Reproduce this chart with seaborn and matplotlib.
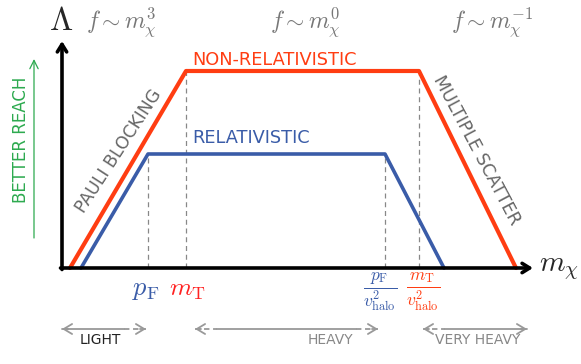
import matplotlib
matplotlib.use("Agg")
import matplotlib.pyplot as plt
import seaborn as sns
import pandas as pd

# data: schematic curves (x = log mass units, y = reach)
red_x = [8, 124, 357, 454]
red_y = [0, 197, 197, 0]
blue_x = [19, 86, 323, 382]
blue_y = [0, 114, 114, 0]

# threshold markers
pF_x, mT_x = 86, 124
pF_halo_x, mT_halo_x = 323, 357

# mass regimes
range_labels = ["LIGHT", "HEAVY", "VERY HEAVY"]
range_start = [0, 133, 361]
range_end = [84, 316, 465]
range_label_x = [38, 268, 416]
range_label_col = ["#222222", "#888888", "#888888"]

scaling_labels = [r"$f \sim m_\chi^3$", r"$f \sim m_\chi^0$", r"$f \sim m_\chi^{-1}$"]
scaling_x = [59, 243, 430]

RED = "#FF3D12"
BLUE = "#3A5CA8"
GRAY = "#999999"

sns.set_theme(style="white")
plt.rcParams["font.family"] = ["DejaVu Sans"]
plt.rcParams["mathtext.fontset"] = "cm"

fig = plt.figure(figsize=(5.81, 3.64), dpi=100)
ax = fig.add_axes([0, 0, 1, 1])
ax.set_xlim(-62, 519)
ax.set_ylim(-96, 268)
ax.axis("off")

# dashed guide lines
for xv, top in [(pF_x, blue_y[1]), (mT_x, red_y[1]), (pF_halo_x, blue_y[2]), (mT_halo_x, red_y[2])]:
    ax.plot([xv, xv], [0, top], color="#888888", lw=0.9, ls=(0, (4, 3)), zorder=1)

df_red = pd.DataFrame({"x": red_x, "y": red_y})
df_blue = pd.DataFrame({"x": blue_x, "y": blue_y})
sns.lineplot(data=df_red, x="x", y="y", sort=False, estimator=None, color=RED, lw=3.0, ax=ax, zorder=3)
sns.lineplot(data=df_blue, x="x", y="y", sort=False, estimator=None, color=BLUE, lw=2.6, ax=ax, zorder=3)
ax.axis("off")

# axes with arrows
ax.annotate("", xy=(0, 227), xytext=(0, -1.5),
            arrowprops=dict(arrowstyle="->,head_length=0.45,head_width=0.28", color="black", lw=2.6,
                            shrinkA=0, shrinkB=0))
ax.annotate("", xy=(471, 0), xytext=(-1.5, 0),
            arrowprops=dict(arrowstyle="->,head_length=0.45,head_width=0.28", color="black", lw=2.6,
                            shrinkA=0, shrinkB=0))
ax.text(-1, 248, r"$\Lambda$", fontsize=24, ha="center", va="center")
ax.text(477, 0, r"$m_\chi$", fontsize=21, ha="left", va="center")

# better reach arrow
ax.annotate("", xy=(-28, 209), xytext=(-28, 30),
            arrowprops=dict(arrowstyle="->,head_length=0.5,head_width=0.25", color="#2DAA4F", lw=0.9,
                            shrinkA=0, shrinkB=0))
ax.text(-41, 128, "BETTER REACH", color="#2DAA4F", fontsize=12, rotation=90,
        ha="center", va="center")

# curve labels
ax.text(130, 208, "NON-RELATIVISTIC", color=RED, fontsize=12.8, ha="left", va="center")
ax.text(130, 130, "RELATIVISTIC", color=BLUE, fontsize=12.8, ha="left", va="center")
ax.text(57, 117, "PAULI BLOCKING", color="#666666", fontsize=12.4, rotation=57,
        ha="center", va="center", rotation_mode="anchor")
ax.text(415, 118, "MULTIPLE SCATTER", color="#666666", fontsize=12.6, rotation=-62,
        ha="center", va="center", rotation_mode="anchor")

# scaling labels
for lab, xv in zip(scaling_labels, scaling_x):
    ax.text(xv, 246, lab, color="#777777", fontsize=17, ha="center", va="center")

# threshold labels
ax.text(pF_x - 2, -21, r"$p_{\rm F}$", color=BLUE, fontsize=19, ha="center", va="center")
ax.text(mT_x + 1, -21, r"$m_{\rm T}$", color="#FF2222", fontsize=18.5, ha="center", va="center")
ax.text(pF_halo_x - 5, -24, r"$\frac{p_{\rm F}}{v^2_{\rm halo}}$", color=BLUE, fontsize=18,
        ha="center", va="center")
ax.text(mT_halo_x + 4, -24, r"$\frac{m_{\rm T}}{v^2_{\rm halo}}$", color=RED, fontsize=18,
        ha="center", va="center")

# mass regime arrows
y_r = -61
dash_len = 22
for i, lab in enumerate(range_labels):
    s, e = range_start[i], range_end[i]
    if i == 0:
        segs = [(s, e - dash_len, "-"), (e - dash_len, e, "--")]
    elif i == 1:
        segs = [(s, s + dash_len, "--"), (s + dash_len, e - dash_len, "-"), (e - dash_len, e, "--")]
    else:
        segs = [(s, s + dash_len, "--"), (s + dash_len, e, "-")]
    for a, b, st in segs:
        ax.plot([a, b], [y_r, y_r], color=GRAY, lw=1.3, ls="-" if st == "-" else (0, (3, 2)))
    for tip, back in [(s, s + 6), (e, e - 6)]:
        ax.annotate("", xy=(tip, y_r), xytext=(back, y_r),
                    arrowprops=dict(arrowstyle="->,head_length=0.5,head_width=0.3", color=GRAY, lw=1.3,
                                    shrinkA=0, shrinkB=0))
    ax.text(range_label_x[i], -72, lab, color=range_label_col[i], fontsize=10, ha="center", va="center")

fig.savefig("out.png", dpi=100)
